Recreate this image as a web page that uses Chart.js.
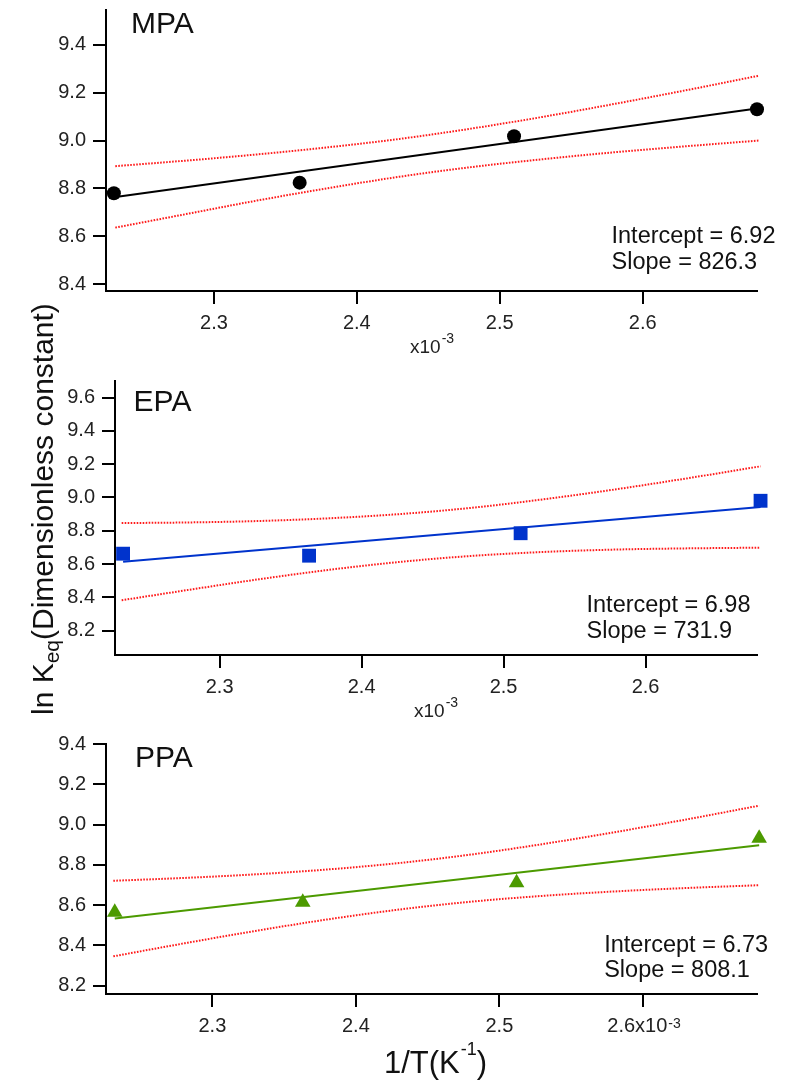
<!DOCTYPE html>
<html><head><meta charset="utf-8">
<script src="https://cdn.jsdelivr.net/npm/chart.js@4"></script>
<style>
html,body{margin:0;padding:0;background:#fff;width:797px;height:1081px;overflow:hidden}
canvas{position:absolute;left:0;top:0}
</style></head><body>
<canvas id="c1" width="797" height="1081"></canvas>
<canvas id="c2" width="797" height="1081"></canvas>
<canvas id="c3" width="797" height="1081"></canvas>
<script>
// ---------- data (1/T in 10^-3 K^-1, ln Keq) ----------
const mpaX = [2.230, 2.360, 2.510, 2.680];
const mpaY = [8.780, 8.824, 9.018, 9.131];
const epaX = [2.232, 2.363, 2.512, 2.681];
const epaY = [8.662, 8.650, 8.785, 8.980];
const ppaX = [2.232, 2.363, 2.512, 2.681];
const ppaY = [8.565, 8.615, 8.711, 8.932];

const mpaFitX = [2.230, 2.680];
const mpaFitY = [8.763, 9.134];
const epaFitX = [2.232, 2.681];
const epaFitY = [8.614, 8.942];
const ppaFitX = [2.232, 2.681];
const ppaFitY = [8.534, 8.897];

const bandX = [2.231, 2.28, 2.33, 2.38, 2.43, 2.48, 2.53, 2.58, 2.63, 2.681];
const mpaUpper = [8.893, 8.916, 8.942, 8.972, 9.007, 9.050, 9.099, 9.153, 9.210, 9.271];
const mpaLower = [8.636, 8.692, 8.749, 8.801, 8.849, 8.889, 8.922, 8.951, 8.976, 9.000];
const epaUpper = [8.846, 8.850, 8.859, 8.876, 8.902, 8.940, 8.991, 9.050, 9.116, 9.187];
const epaLower = [8.382, 8.447, 8.511, 8.568, 8.615, 8.650, 8.673, 8.687, 8.694, 8.698];
const ppaUpper = [8.721, 8.735, 8.753, 8.777, 8.809, 8.851, 8.903, 8.962, 9.025, 9.094];
const ppaLower = [8.346, 8.410, 8.472, 8.529, 8.578, 8.617, 8.646, 8.668, 8.685, 8.699];

const xTicks = [2.3, 2.4, 2.5, 2.6];
const mpaYTicks = [8.4, 8.6, 8.8, 9.0, 9.2, 9.4];
const epaYTicks = [8.2, 8.4, 8.6, 8.8, 9.0, 9.2, 9.4, 9.6];
const ppaYTicks = [8.2, 8.4, 8.6, 8.8, 9.0, 9.2, 9.4];

// ---------- helpers ----------
const FAM = '"Liberation Sans", Arial, Helvetica, sans-serif';
const F = s => s + 'px ' + FAM;
const TICK = 20;
const pts = (xs, ys) => xs.map((x, i) => ({x: x, y: ys[i]}));

const textPlugin = {
  id: 'pageText',
  afterDraw(chart, args, opts) {
    const ctx = chart.ctx;
    (opts.items || []).forEach(it => {
      ctx.save();
      ctx.translate(it.x, it.y);
      if (it.rotate) ctx.rotate(it.rotate);
      ctx.fillStyle = it.color || '#111';
      ctx.textBaseline = 'alphabetic';
      ctx.textAlign = 'left';
      let cx = 0;
      it.runs.forEach(r => {
        ctx.font = r.font;
        cx += (r.dx || 0);
        ctx.fillText(r.text, cx, r.dy || 0);
        cx += ctx.measureText(r.text).width;
      });
      ctx.restore();
    });
    if (opts.sciTick) {
      const s = opts.sciTick;
      const xs = chart.scales.x;
      ctx.save();
      ctx.font = F(TICK);
      const full = ctx.measureText(s.label).width;
      const main = ctx.measureText(s.label.trimEnd()).width;
      const px = xs.getPixelForValue(s.value);
      ctx.font = F(14);
      ctx.fillStyle = '#222';
      ctx.textBaseline = 'alphabetic';
      ctx.fillText(s.sup, px - full / 2 + main + 1, s.y);
      ctx.restore();
    }
  }
};

function makeChart(id, g) {
  const sciLabel = '2.6x10  ';
  return new Chart(document.getElementById(id), {
    type: 'scatter',
    data: {
      datasets: [
        {data: pts(g.px, g.py), pointStyle: g.ps, pointRadius: g.pr, pointHoverRadius: g.pr,
         backgroundColor: g.color, borderColor: g.color, borderWidth: 0, showLine: false, clip: false},
        {data: pts(g.fx, g.fy), showLine: true, borderColor: g.color, borderWidth: 2,
         pointRadius: 0, clip: false},
        {data: pts(bandX, g.up), showLine: true, borderColor: '#ff1a1a', borderWidth: 2,
         borderDash: [1.6, 1.4], pointRadius: 0, cubicInterpolationMode: 'monotone', clip: false},
        {data: pts(bandX, g.lo), showLine: true, borderColor: '#ff1a1a', borderWidth: 2,
         borderDash: [1.6, 1.4], pointRadius: 0, cubicInterpolationMode: 'monotone', clip: false}
      ]
    },
    options: {
      responsive: false,
      animation: false,
      events: [],
      layout: {padding: {left: 0, top: g.top, right: 797 - g.right, bottom: 1081 - g.bottom - 40}},
      plugins: {legend: {display: false}, tooltip: {enabled: false},
        pageText: {items: g.items, sciTick: g.sciTick || null}},
      scales: {
        x: {
          type: 'linear', min: g.xmin, max: g.xmax,
          afterBuildTicks: s => { s.ticks = xTicks.map(v => ({value: v})); },
          afterFit: s => { s.height = 40; s.paddingLeft = 0; s.paddingRight = 0; s.paddingTop = 0; s.paddingBottom = 0; },
          grid: {drawOnChartArea: false, drawTicks: true, tickLength: 13, color: '#000', lineWidth: 2},
          border: {display: true, color: '#000', width: 2},
          ticks: {autoSkip: false, maxRotation: 0, padding: 7, color: '#222', font: {family: FAM, size: TICK},
            callback: v => (g.sciTick && Math.abs(v - 2.6) < 1e-6) ? sciLabel : v.toFixed(1)}
        },
        y: {
          type: 'linear', min: g.ymin, max: g.ymax,
          afterBuildTicks: s => { s.ticks = g.yt.map(v => ({value: v})); },
          afterFit: s => { s.width = g.left; s.paddingTop = 0; s.paddingBottom = 0; s.paddingLeft = 0; s.paddingRight = 0; },
          grid: {drawOnChartArea: false, drawTicks: true, tickLength: 13, color: '#000', lineWidth: 2},
          border: {display: true, color: '#000', width: 2},
          ticks: {autoSkip: false, padding: 7, color: '#222', font: {family: FAM, size: TICK},
            callback: v => v.toFixed(1)}
        }
      }
    },
    plugins: [textPlugin]
  });
}

makeChart('c1', {
  left: 106, right: 757, top: 10, bottom: 291,
  xmin: 2.2245, xmax: 2.680, ymin: 8.371, ymax: 9.546, yt: mpaYTicks,
  px: mpaX, py: mpaY, fx: mpaFitX, fy: mpaFitY, up: mpaUpper, lo: mpaLower,
  color: '#000000', ps: 'circle', pr: 7,
  items: [
    {x: 131, y: 33, runs: [{text: 'MPA', font: F(30)}]},
    {x: 611.5, y: 242.5, runs: [{text: 'Intercept = 6.92', font: F(23.5)}]},
    {x: 611.5, y: 268.8, runs: [{text: 'Slope = 826.3', font: F(23.5)}]},
    {x: 410, y: 353, color: '#222', runs: [{text: 'x10', font: F(19)}, {text: '-3', font: F(14), dx: 1, dy: -10}]},
    {x: 52.7, y: 715, rotate: -Math.PI / 2, runs: [
      {text: 'ln K', font: F(30)}, {text: 'eq', font: F(21), dy: 6},
      {text: '(Dimensionless constant)', font: F(30)}]},
    {x: 384, y: 1073, runs: [{text: '1/T(K', font: F(31)}, {text: '-1', font: F(18), dx: 1, dy: -18},
      {text: ')', font: F(31)}]}
  ]
});

makeChart('c2', {
  left: 115, right: 757, top: 381, bottom: 655,
  xmin: 2.2263, xmax: 2.6785, ymin: 8.053, ymax: 9.70, yt: epaYTicks,
  px: epaX, py: epaY, fx: epaFitX, fy: epaFitY, up: epaUpper, lo: epaLower,
  color: '#0033cc', ps: 'rect', pr: 9.8,
  items: [
    {x: 133.6, y: 410.7, runs: [{text: 'EPA', font: F(30)}]},
    {x: 586.5, y: 611.8, runs: [{text: 'Intercept = 6.98', font: F(23.5)}]},
    {x: 586.5, y: 638, runs: [{text: 'Slope = 731.9', font: F(23.5)}]},
    {x: 414, y: 716.7, color: '#222', runs: [{text: 'x10', font: F(19)}, {text: '-3', font: F(14), dx: 1, dy: -10}]}
  ]
});

makeChart('c3', {
  left: 106, right: 757, top: 744, bottom: 994,
  xmin: 2.2259, xmax: 2.6795, ymin: 8.159, ymax: 9.4, yt: ppaYTicks,
  px: ppaX, py: ppaY, fx: ppaFitX, fy: ppaFitY, up: ppaUpper, lo: ppaLower,
  color: '#4c9a00', ps: 'triangle', pr: 9,
  sciTick: {value: 2.6, label: '2.6x10  ', sup: '-3', y: 1028},
  items: [
    {x: 135, y: 767.3, runs: [{text: 'PPA', font: F(30)}]},
    {x: 604.2, y: 951.5, runs: [{text: 'Intercept = 6.73', font: F(23.5)}]},
    {x: 604.2, y: 976.5, runs: [{text: 'Slope = 808.1', font: F(23.5)}]}
  ]
});
</script>
</body></html>
